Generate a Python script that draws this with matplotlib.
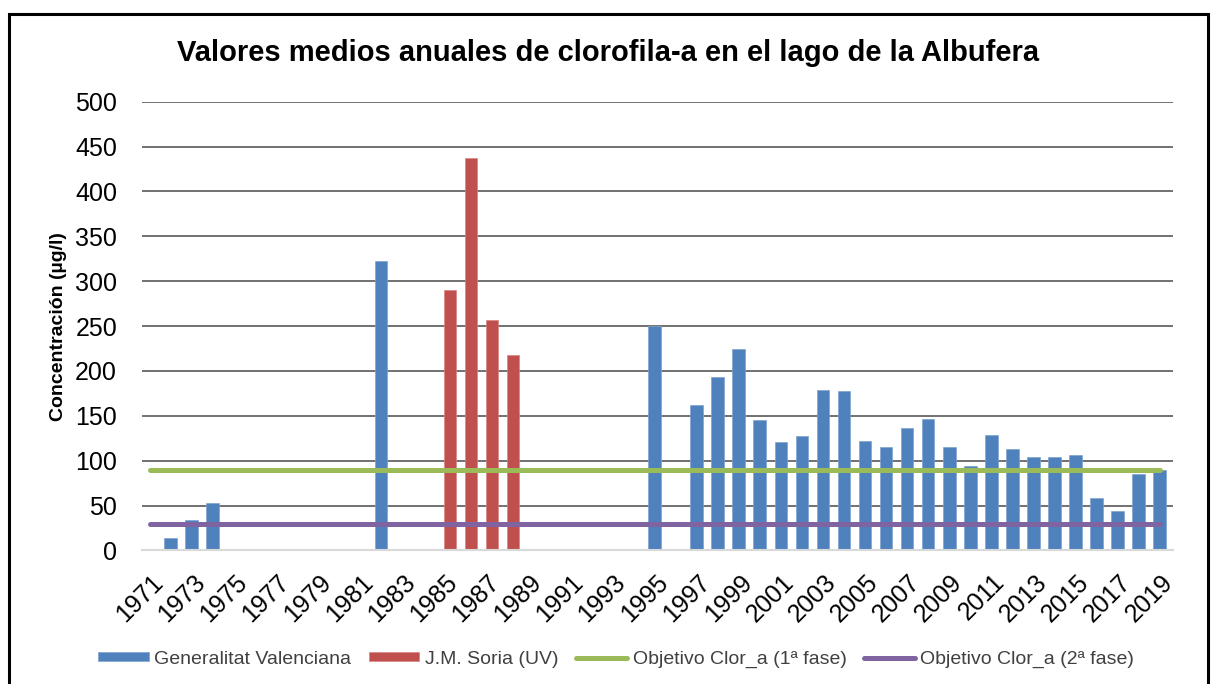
import matplotlib
matplotlib.use('Agg')
import matplotlib.pyplot as plt
import matplotlib.transforms as mtransforms
from matplotlib.patches import Rectangle
import numpy as np

plt.rcParams['font.family'] = ['Liberation Sans', 'DejaVu Sans']

years = list(range(1971, 2020))

gva_years = [1972, 1973, 1974, 1982, 1995, 1997, 1998, 1999, 2000, 2001, 2002,
             2003, 2004, 2005, 2006, 2007, 2008, 2009, 2010, 2011, 2012, 2013,
             2014, 2015, 2016, 2017, 2018, 2019]
gva_values = [14, 34, 53, 322, 250, 162, 193, 224, 145, 121, 128,
              179, 178, 122, 115, 137, 146, 115, 94, 129, 113, 104,
              104, 106, 59, 44, 85, 90]

soria_years = [1985, 1986, 1987, 1988]
soria_values = [290, 437, 257, 218]

objetivo_1 = 90
objetivo_2 = 30

tick_years = years[::2]

fig = plt.figure(figsize=(12.13, 6.84), dpi=100)
ax = fig.add_axes([0.1171, 0.1952, 0.85, 0.6561])

idx = {y: i for i, y in enumerate(years)}
gva_x = np.array([idx[y] for y in gva_years])
soria_x = np.array([idx[y] for y in soria_years])

b1 = ax.bar(gva_x, gva_values, width=0.6, color='#4F81BD', edgecolor='#7fa3d0',
            linewidth=0.5, zorder=2, label='Generalitat Valenciana')
b2 = ax.bar(soria_x + 0.28, soria_values, width=0.56, color='#C0504D', edgecolor='#d88583',
            linewidth=0.5, zorder=2, label='J.M. Soria (UV)')
l1, = ax.plot([0, len(years) - 1], [objetivo_1, objetivo_1], color='#9BBB59', lw=3.6,
              solid_capstyle='round', zorder=3, label='Objetivo Clor_a (1ª fase)')
l2, = ax.plot([0, len(years) - 1], [objetivo_2, objetivo_2], color='#8064A2', lw=3.6,
              solid_capstyle='round', zorder=3, label='Objetivo Clor_a (2ª fase)')

ax.set_xlim(-0.356, 48.64)
ax.set_ylim(0, 500)
ax.set_yticks(range(0, 501, 50))
ax.tick_params(axis='y', length=0, pad=18, labelsize=18)
ax.set_xticks([idx[y] for y in tick_years])
ax.set_xticklabels([str(y) for y in tick_years], rotation=45, ha='right',
                   rotation_mode='anchor', fontsize=18)
ax.tick_params(axis='x', length=0, pad=14)
offset = mtransforms.ScaledTranslation(1 / 100, 0, fig.dpi_scale_trans)
for lab in ax.get_xticklabels():
    lab.set_transform(lab.get_transform() + offset)

for v in range(50, 501, 50):
    ax.axhline(v, color='#4a4a4a', lw=1.1, zorder=1)
for s in ['top', 'right', 'left']:
    ax.spines[s].set_visible(False)
ax.spines['bottom'].set_color('#d9d9d9')
ax.spines['bottom'].set_linewidth(1.5)

ax.set_ylabel('Concentración (µg/l)', fontsize=14, fontweight='bold', labelpad=6)

fig.text(0.501, 0.922, 'Valores medios anuales de clorofila-a en el lago de la Albufera',
         ha='center', va='center', fontsize=21, fontweight='bold')

fig.legend(handles=[b1, b2, l1, l2], loc='center', bbox_to_anchor=(0.508, 0.036), ncol=4,
           frameon=False, fontsize=14, handlelength=2.6, handleheight=0.36,
           handletextpad=0.3, columnspacing=0.9, labelcolor='#404040')

fig.add_artist(Rectangle((9 / 1213, -0.1), (1208 - 9) / 1213, 0.9795 + 0.1,
                         transform=fig.transFigure, fill=False, edgecolor='black',
                         lw=2.2, clip_on=False))

fig.savefig('out.png', dpi=100)
